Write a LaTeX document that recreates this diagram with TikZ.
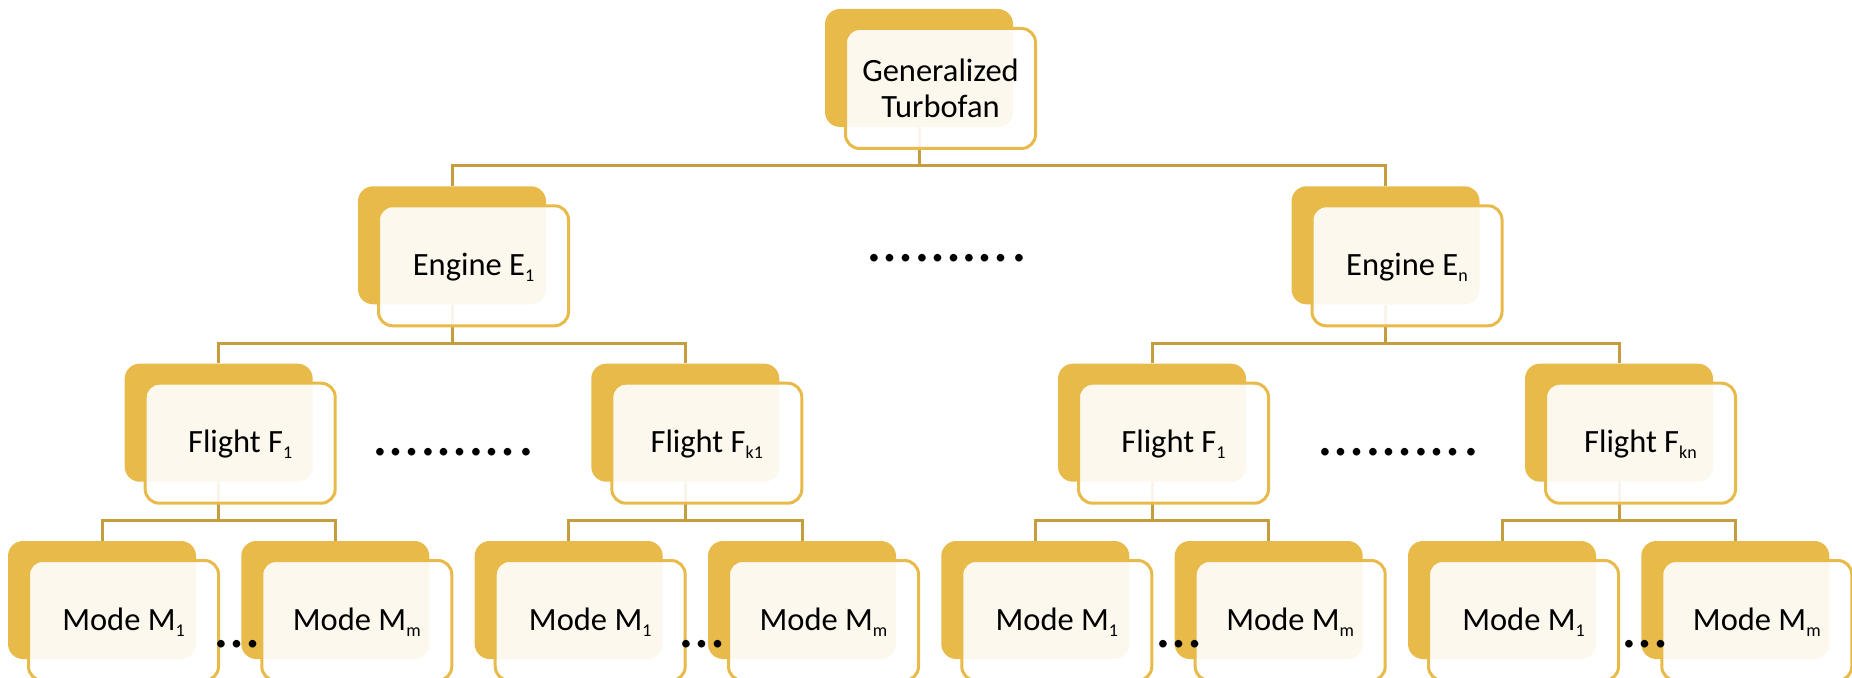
\documentclass[tikz,border=0pt]{standalone}
\usepackage{fontspec}
\setmainfont{Carlito}
\usetikzlibrary{calc}

\definecolor{gold}{RGB}{232,186,74}
\definecolor{linkgold}{RGB}{196,158,62}

% lowered small index after a letter
\newcommand\lowsub[1]{\raisebox{-3pt}{\fontsize{9}{10}\selectfont #1}}
% long elision: three ellipses and a full stop, slightly spread
\newcommand\longdots{…\kern2.25pt…\kern2.25pt…\kern2.25pt.}

\tikzset{
  backbox/.style={fill=gold, draw=none, rounded corners=7.5pt,
    minimum width=94pt, minimum height=59pt, inner sep=0pt},
  frontbox/.style={draw=gold, line width=1.5pt, fill=white, fill opacity=0.9,
    text opacity=1, rounded corners=7pt, minimum width=95pt, minimum height=60pt,
    inner sep=0pt, align=center, font=\fontsize{16.25}{18}\selectfont},
  oneline/.style={text height=11pt, text depth=1.5pt},
  link/.style={draw=linkgold, line width=1.5pt},
  dotrow/.style={inner sep=0pt, anchor=base, font=\fontsize{31.5}{33}\selectfont},
}

% parent #1 joined to children #2 and #3 by an elbow bar
\newcommand\branch[3]{%
  \path (#2-b.north) ++(0,-20) coordinate (#2-t);
  \draw[link] (#2-b.north) -- (#2-t) -| (#3-b.north);
  \draw[link] (#1-b.south) -- (#1-b.south |- #2-t);
}
% front card of node #2 carrying text #3
\newcommand\card[3][oneline]{%
  \node[frontbox,#1] (#2) at ($(#2-b)+(21.5,20.5)$) {#3};
}

\begin{document}
\begin{tikzpicture}[x=0.5pt, y=-0.5pt]
\useasboundingbox (0,0) rectangle (1852,678);
\clip (0,0) rectangle (1852,678);

% back plates
\node[backbox] (gt-b) at (919,68) {};
\node[backbox] (e1-b) at (452,245.3) {};
\node[backbox] (en-b) at (1385.5,245.3) {};
\foreach \n/\x in {fa/218.7, fb/685.3, fc/1152, fd/1619}
  \node[backbox] (\n-b) at (\x,422.7) {};
\foreach \n/\x in {ma/102, mb/335.3, mc/568.7, md/802, me/1035.3, mf/1268.7, mg/1502, mh/1735.3}
  \node[backbox] (\n-b) at (\x,600) {};

% tree connectors
\branch{gt}{e1}{en}
\branch{e1}{fa}{fb}
\branch{en}{fc}{fd}
\branch{fa}{ma}{mb}
\branch{fb}{mc}{md}
\branch{fc}{me}{mf}
\branch{fd}{mg}{mh}

% front cards
\card[]{gt}{Generalized\\Turbofan}
\card{e1}{Engine E\lowsub{1}}
\card{en}{Engine E\lowsub{n}}
\card{fa}{Flight F\lowsub{1}}
\card{fb}{Flight F\lowsub{k1}}
\card{fc}{Flight F\lowsub{1}}
\card{fd}{Flight F\lowsub{kn}}
\foreach \n in {ma, mc, me, mg} {\card{\n}{Mode M\lowsub{1}}}
\foreach \n in {mb, md, mf, mh} {\card{\n}{Mode M\lowsub{m}}}

% elided siblings
\node[dotrow] (dots-e) at (948,262) {\longdots};
\node[dotrow] (dots-fl) at (454.6,455) {\longdots};
\node[dotrow] (dots-fr) at (1399.5,455) {\longdots};
\foreach \n/\x in {ma/237, mb/702, mc/1179, md/1645}
  \node[dotrow] (dots-\n) at (\x,647) {…};
\end{tikzpicture}
\end{document}
